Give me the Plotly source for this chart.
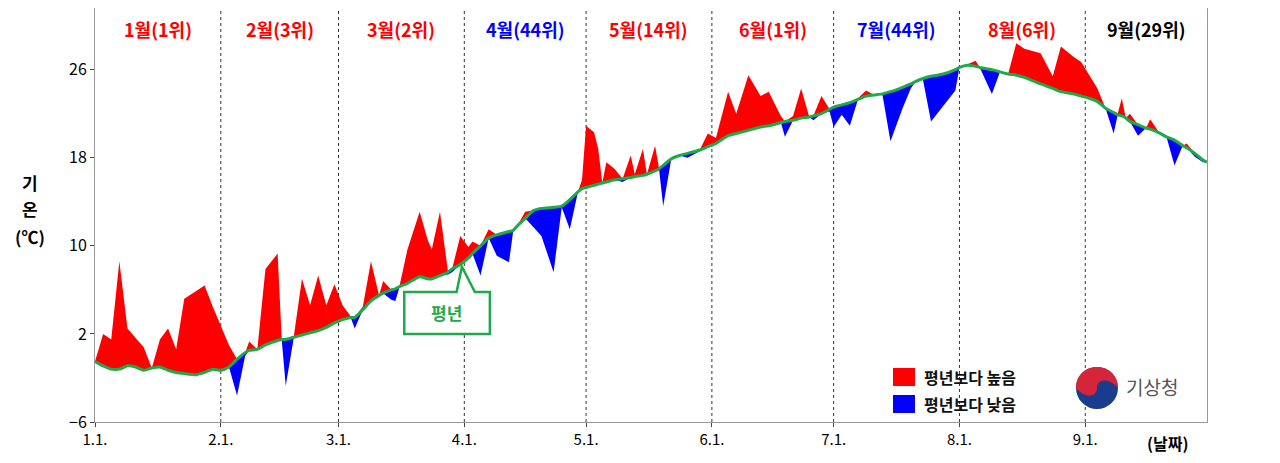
import plotly.graph_objects as go

days = [0,2,4,6,8,10,12,14,16,18,20,22,25,27,29,31,33,35,37,38,40,42,45,46,47,49,51,53,55,57,59,61,63,64,66,68,70,71,73,74,75,77,80,82,83,85,87,88,90,92,93,95,97,99,102,103,104,106,108,110,113,115,117,119,120,121,123,124,125,126,128,130,132,133,135,136,138,139,140,142,144,146,149,151,153,156,158,161,164,166,169,170,172,174,176,177,179,181,182,184,186,188,190,192,194,196,199,201,202,204,206,209,212,213,215,217,218,221,223,225,227,229,233,236,238,241,243,245,247,249,251,252,253,254,255,257,259,260,262,264,266,268,269,271,273,274]
actual = [-0.5,2.0,1.5,8.6,2.5,1.7,0.8,-1.1,1.5,2.5,0.6,5.2,5.9,6.4,4.5,2.7,1.0,-3.6,0.0,1.3,0.6,7.9,9.3,1.6,-2.7,1.8,7.0,4.6,7.3,4.6,6.5,4.6,3.6,2.5,4.5,8.6,5.5,6.8,5.1,5.0,6.2,9.7,13.1,10.5,9.7,13.1,7.4,7.6,10.9,9.9,10.4,7.3,11.5,9.1,8.5,11.2,11.6,13.1,11.7,10.9,7.6,13.5,11.5,14.9,16.0,20.9,20.3,18.8,15.7,17.6,17.0,15.8,18.2,16.5,18.8,16.4,19.1,16.9,13.6,17.9,18.2,18.0,18.6,20.2,19.8,24.0,22.0,25.5,23.6,24.0,21.8,19.9,21.8,24.3,21.7,21.4,23.6,22.2,20.8,21.9,20.9,23.4,24.1,23.7,23.8,19.5,22.5,24.3,24.8,25.1,21.3,22.7,24.1,26.2,26.5,26.8,26.2,23.8,25.8,25.6,28.4,27.9,27.5,25.4,28.1,27.2,26.7,25.5,24.3,22.5,20.2,22.0,23.4,21.6,22.0,20.0,20.7,21.5,20.4,19.9,17.3,19.1,19.3,18.1,17.6,17.7]
normal = [-0.5,-0.9,-1.2,-1.2,-0.9,-1.0,-1.3,-1.1,-1.0,-1.3,-1.5,-1.6,-1.7,-1.5,-1.2,-1.3,-1.0,-0.3,0.3,0.5,0.6,1.0,1.4,1.5,1.5,1.7,1.9,2.1,2.3,2.6,3.0,3.3,3.5,3.5,4.2,5.0,5.5,5.7,6.0,6.1,6.3,6.6,7.2,7.0,7.0,7.3,7.6,7.9,8.3,8.9,9.3,10.0,10.7,11.0,11.3,11.4,11.8,12.5,13.2,13.4,13.5,13.6,14.2,14.9,15.2,15.3,15.5,15.6,15.7,15.8,16.0,16.1,16.2,16.3,16.4,16.5,16.8,17.0,17.3,17.9,18.2,18.4,18.7,19.0,19.3,20.0,20.2,20.5,20.8,20.9,21.2,21.3,21.4,21.6,21.7,21.8,22.0,22.4,22.6,22.8,23.0,23.3,23.6,23.7,23.8,24.0,24.4,24.7,24.9,25.2,25.4,25.6,26.0,26.2,26.4,26.3,26.2,26.0,25.8,25.6,25.5,25.3,24.7,24.3,24.0,23.8,23.6,23.4,23.1,22.5,22.1,21.9,21.8,21.6,21.3,21.0,20.7,20.6,20.3,19.9,19.6,19.1,18.9,18.4,17.8,17.6]

month_days = [0,31,60,91,121,152,182,213,244]
tick_labels = ["1.1.","2.1.","3.1.","4.1.","5.1.","6.1.","7.1.","8.1.","9.1."]
month_titles = ["1월(1위)","2월(3위)","3월(2위)","4월(44위)","5월(14위)","6월(1위)","7월(44위)","8월(6위)","9월(29위)"]
month_colors = ["red","red","red","blue","red","red","blue","red","black"]
y_ticks = [-6,2,10,18,26]

upper = [max(a, n) for a, n in zip(actual, normal)]
lower = [min(a, n) for a, n in zip(actual, normal)]

GREEN = "#1eaa4a"
fig = go.Figure()
fig.add_trace(go.Scatter(x=days, y=normal, mode="lines", line=dict(width=0), hoverinfo="skip"))
fig.add_trace(go.Scatter(x=days, y=upper, mode="lines", line=dict(width=0), fill="tonexty", fillcolor="#ff0000"))
fig.add_trace(go.Scatter(x=days, y=normal, mode="lines", line=dict(width=0), hoverinfo="skip"))
fig.add_trace(go.Scatter(x=days, y=lower, mode="lines", line=dict(width=0), fill="tonexty", fillcolor="#0000ff"))
fig.add_trace(go.Scatter(x=days, y=normal, mode="lines", line=dict(width=3, color=GREEN, shape="spline", smoothing=0.6)))

OFF = 8
L, R, T, B = 95, 1207, 8, 422
def px(x): return (x - L) / (R - L)
def py(y): return (B - y) / (B - T)

shapes = []
for d in month_days[1:]:
    shapes.append(dict(type="line", x0=d, x1=d, y0=0, y1=1, xref="x", yref="paper",
                       line=dict(color="#333", width=1, dash="dot"), layer="below"))
path = "M 76.2,5.8 L 89.1,5.8 L 90.4,8.1 L 93.6,5.8 L 97.3,5.8 L 97.3,2.0 L 76.2,2.0 Z"
shapes.append(dict(type="path", path=path, xref="x", yref="y", fillcolor="white", line=dict(color=GREEN, width=2.5)))
shapes.append(dict(type="rect", xref="paper", yref="paper", x0=px(893), x1=px(915), y0=py(386), y1=py(368), fillcolor="#ff0000", line=dict(width=0)))
shapes.append(dict(type="rect", xref="paper", yref="paper", x0=px(893), x1=px(915), y0=py(413), y1=py(395), fillcolor="#0000ff", line=dict(width=0)))
shapes.append(dict(type="circle", xref="paper", yref="paper", x0=px(1076), x1=px(1118), y0=py(409), y1=py(367), fillcolor="#1a3c8c", line=dict(width=0)))
shapes.append(dict(type="path", xref="paper", yref="paper",
                   path=f"M {px(1076)},{py(388)} C {px(1076)},{py(360)} {px(1118)},{py(360)} {px(1118)},{py(388)} C {px(1110)},{py(378)} {px(1097)},{py(378)} {px(1097)},{py(388)} C {px(1097)},{py(398)} {px(1084)},{py(398)} {px(1076)},{py(388)} Z",
                   fillcolor="#d6243a", line=dict(width=0)))

def note(x, y, text, size, color, xanchor="center", xref="paper", yref="paper"):
    return dict(x=x, y=y, xref=xref, yref=yref, text=text, showarrow=False, xanchor=xanchor, yanchor="middle",
                font=dict(size=size, color=color))

ann = []
ends = month_days[1:] + [274]
for d0, d1, t, c in zip(month_days, ends, month_titles, month_colors):
    ann.append(note((d0 + d1) / 2, py(29), f"<b>{t}</b>", 18, c, xref="x"))
ann.append(note(86.7, 3.9, "<b>평년</b>", 17, GREEN, xref="x", yref="y"))
for yy, t in [(182, "기"), (208, "온"), (236, "(℃)")]:
    ann.append(note(px(30), py(yy), f"<b>{t}</b>", 17, "black"))
ann.append(note(px(1168), py(443), "<b>(날짜)</b>", 16, "black"))
ann.append(note(px(922), py(377), "<b>평년보다 높음</b>", 16, "#111", xanchor="left"))
ann.append(note(px(922), py(404), "<b>평년보다 낮음</b>", 16, "#111", xanchor="left"))
ann.append(note(px(1124), py(386), "기상청", 19, "#555", xanchor="left"))

fig.update_layout(
    width=1280, height=463, margin=dict(l=L - OFF, r=1280 - R + OFF, t=T - OFF, b=463 - B + OFF),
    paper_bgcolor="white", plot_bgcolor="white", showlegend=False,
    font=dict(family="Noto Sans CJK KR, sans-serif", color="black"),
    shapes=shapes, annotations=ann,
    xaxis=dict(range=[0, 274], tickvals=month_days, ticktext=tick_labels, showgrid=False, zeroline=False,
               showline=True, mirror=True, linecolor="#999", linewidth=1, ticks="outside", ticklen=4,
               tickfont=dict(size=15)),
    yaxis=dict(range=[-6, 31.6], tickvals=y_ticks, showgrid=False, zeroline=False,
               showline=True, mirror=True, linecolor="#999", linewidth=1, ticks="outside", ticklen=4,
               tickfont=dict(size=16)),
)
fig.write_html("out.html")
